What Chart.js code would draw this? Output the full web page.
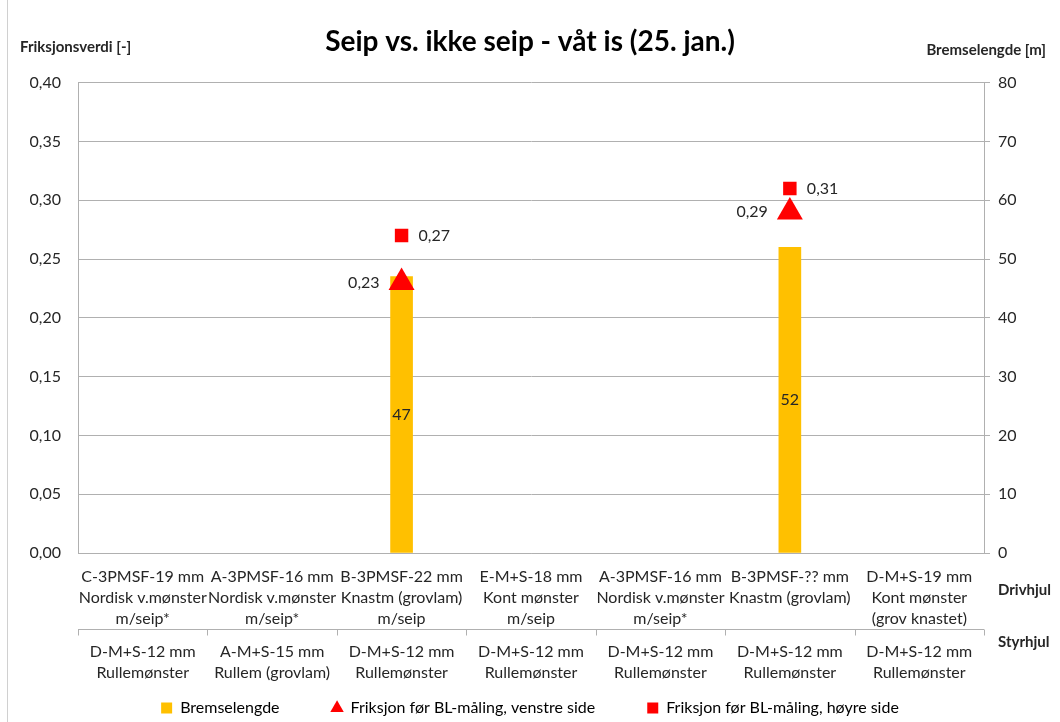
<!DOCTYPE html>
<html>
<head>
<meta charset="utf-8">
<script src="https://cdn.jsdelivr.net/npm/chart.js@4.4.0/dist/chart.umd.min.js"></script>
<style>
  body { margin: 0; background: #fff; }
  #wrap { width: 1060px; height: 722px; }
</style>
</head>
<body>
<div id="wrap"><canvas id="chart" width="1060" height="722"></canvas></div>
<script>
// Drivhjul (first label row) and Styrhjul (second label row)
const drivhjul = [
  ['C-3PMSF-19 mm', 'Nordisk v.mønster', 'm/seip*'],
  ['A-3PMSF-16 mm', 'Nordisk v.mønster', 'm/seip*'],
  ['B-3PMSF-22 mm', 'Knastm (grovlam)', 'm/seip'],
  ['E-M+S-18 mm', 'Kont mønster', 'm/seip'],
  ['A-3PMSF-16 mm', 'Nordisk v.mønster', 'm/seip*'],
  ['B-3PMSF-?? mm', 'Knastm (grovlam)'],
  ['D-M+S-19 mm', 'Kont mønster', '(grov knastet)']
];
const styrhjul = [
  ['D-M+S-12 mm', 'Rullemønster'],
  ['A-M+S-15 mm', 'Rullem (grovlam)'],
  ['D-M+S-12 mm', 'Rullemønster'],
  ['D-M+S-12 mm', 'Rullemønster'],
  ['D-M+S-12 mm', 'Rullemønster'],
  ['D-M+S-12 mm', 'Rullemønster'],
  ['D-M+S-12 mm', 'Rullemønster']
];

const bremselengde = [null, null, 47, null, null, 52, null];
const friksjonVenstre = [null, null, 0.23, null, null, 0.29, null];
const friksjonHoyre = [null, null, 0.27, null, null, 0.31, null];

const FONT = 'Lato';
const TEXT = '#262626';
const GRID = '#b0b0b0';

const fmt = v => v.toFixed(2).replace('.', ',');

// draws axis titles, multi-level category labels and value labels
const extras = {
  id: 'extras',
  afterDraw(chart) {
    const ctx = chart.ctx;
    const area = chart.chartArea;
    const x = chart.scales.x;
    ctx.save();

    // axis titles
    ctx.fillStyle = TEXT;
    ctx.font = `bold 15px ${FONT}`;
    ctx.textBaseline = 'middle';
    ctx.textAlign = 'left';
    ctx.fillText('Friksjonsverdi [-]', 20, 47);
    ctx.textAlign = 'right';
    ctx.fillText('Bremselengde [m]', 1046, 50);

    // category labels
    ctx.font = `16px ${FONT}`;
    ctx.textAlign = 'center';
    drivhjul.forEach((lines, i) => {
      const cx = x.getPixelForValue(i);
      lines.forEach((t, j) => ctx.fillText(t, cx, area.bottom + 24 + j * 21));
    });
    styrhjul.forEach((lines, i) => {
      const cx = x.getPixelForValue(i);
      lines.forEach((t, j) => ctx.fillText(t, cx, area.bottom + 99 + j * 21));
    });

    ctx.font = `bold 15px ${FONT}`;
    ctx.textAlign = 'left';
    ctx.fillText('Drivhjul', 998, area.bottom + 37);
    ctx.fillText('Styrhjul', 998, area.bottom + 89);

    // separator between label rows
    const sepY = Math.round(area.bottom + 76) + 0.5;
    ctx.strokeStyle = GRID;
    ctx.lineWidth = 1;
    ctx.beginPath();
    ctx.moveTo(area.left, sepY);
    ctx.lineTo(area.right, sepY);
    for (let i = 0; i <= drivhjul.length; i++) {
      const bx = Math.round(x.getPixelForValue(i - 0.5)) + 0.5;
      ctx.moveTo(bx, sepY);
      ctx.lineTo(bx, sepY + 6);
    }
    ctx.stroke();

    // outer chart border (left)
    ctx.beginPath();
    ctx.strokeStyle = '#d0d0d0';
    ctx.moveTo(7.5, 0);
    ctx.lineTo(7.5, 722);
    ctx.stroke();

    // value labels
    ctx.fillStyle = TEXT;
    ctx.font = `16px ${FONT}`;
    ctx.textBaseline = 'middle';
    chart.getDatasetMeta(0).data.forEach((el, i) => {
      const v = bremselengde[i];
      if (v == null) return;
      ctx.textAlign = 'center';
      ctx.fillText(String(v), el.x, (el.y + el.base) / 2);
    });
    chart.getDatasetMeta(1).data.forEach((el, i) => {
      const v = friksjonVenstre[i];
      if (v == null) return;
      ctx.textAlign = 'right';
      ctx.fillText(fmt(v), el.x - 22, el.y);
    });
    chart.getDatasetMeta(2).data.forEach((el, i) => {
      const v = friksjonHoyre[i];
      if (v == null) return;
      ctx.textAlign = 'left';
      ctx.fillText(fmt(v), el.x + 17, el.y);
    });
    ctx.restore();
  }
};

new Chart(document.getElementById('chart'), {
  data: {
    labels: drivhjul.map(l => l.join(' ')),
    datasets: [
      {
        type: 'bar',
        label: 'Bremselengde',
        data: bremselengde,
        yAxisID: 'y1',
        backgroundColor: '#FFC000',
        barThickness: 22,
        order: 3
      },
      {
        type: 'line',
        label: 'Friksjon før BL-måling, venstre side',
        data: friksjonVenstre,
        yAxisID: 'y',
        showLine: false,
        pointStyle: 'triangle',
        pointRadius: 15,
        pointBorderWidth: 0,
        backgroundColor: '#FF0000',
        borderColor: '#FF0000',
        order: 1
      },
      {
        type: 'line',
        label: 'Friksjon før BL-måling, høyre side',
        data: friksjonHoyre,
        yAxisID: 'y',
        showLine: false,
        pointStyle: 'rect',
        pointRadius: 9.5,
        pointBorderWidth: 0,
        backgroundColor: '#FF0000',
        borderColor: '#FF0000',
        order: 2
      }
    ]
  },
  options: {
    responsive: false,
    animation: false,
    devicePixelRatio: 1,
    events: [],
    layout: { padding: { left: 0, right: 0, top: 0, bottom: -4 } },
    plugins: {
      title: {
        display: true,
        text: 'Seip vs. ikke seip - våt is (25. jan.)',
        color: '#000',
        font: { family: FONT, size: 28, weight: 'bold' },
        padding: { top: 25, bottom: 24 },
        align: 'center'
      },
      legend: {
        position: 'bottom',
        labels: {
          usePointStyle: true,
          boxWidth: 11,
          boxHeight: 11,
          padding: 52,
          color: TEXT,
          font: { family: FONT, size: 16 },
          generateLabels: chart => chart.data.datasets.map((ds, i) => ({
            text: ds.label,
            fillStyle: ds.backgroundColor,
            strokeStyle: ds.backgroundColor,
            lineWidth: 0,
            pointStyle: ds.type === 'bar' ? 'rect' : ds.pointStyle,
            datasetIndex: i,
            hidden: false
          }))
        }
      },
      tooltip: { enabled: false }
    },
    scales: {
      x: {
        offset: true,
        grid: { display: false },
        border: { display: true, color: GRID },
        ticks: { display: false },
        afterFit: s => { s.height = 95; }
      },
      y: {
        position: 'left',
        min: 0,
        max: 0.4,
        ticks: {
          stepSize: 0.05,
          padding: 17,
          color: TEXT,
          font: { family: FONT, size: 16 },
          callback: v => fmt(v)
        },
        grid: { color: GRID, drawTicks: false },
        border: { display: true, color: GRID },
        afterFit: s => { s.width = 78; }
      },
      y1: {
        position: 'right',
        min: 0,
        max: 80,
        ticks: {
          stepSize: 10,
          padding: 8,
          color: TEXT,
          font: { family: FONT, size: 16 }
        },
        grid: { drawOnChartArea: false, drawTicks: true, tickLength: 6, color: GRID },
        border: { display: true, color: GRID },
        afterFit: s => { s.width = 76; }
      }
    }
  },
  plugins: [extras]
});
</script>
</body>
</html>
